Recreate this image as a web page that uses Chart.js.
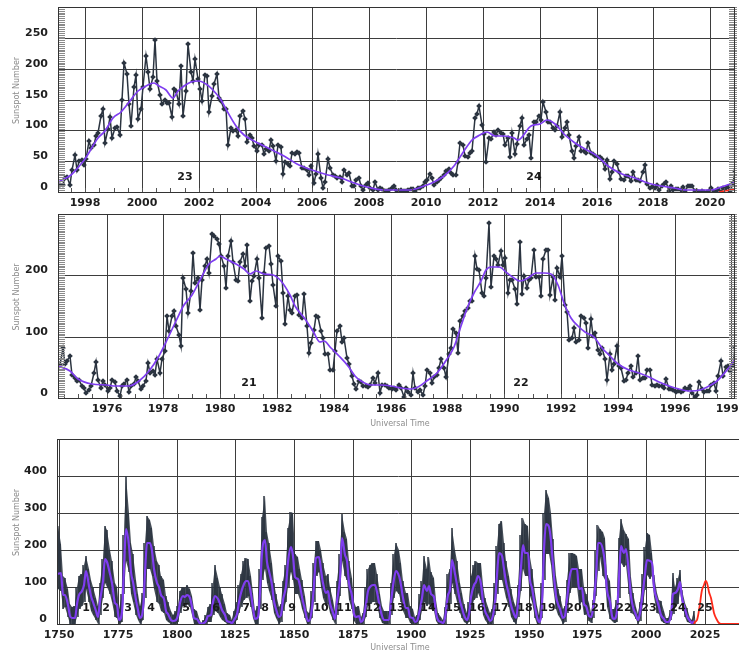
<!DOCTYPE html>
<html>
<head>
<meta charset="utf-8">
<script src="https://cdn.jsdelivr.net/npm/chart.js@4.4.1/dist/chart.umd.min.js"></script>
<style>
  html, body { margin: 0; padding: 0; background: #fff; overflow: hidden; }
  #wrap { position: relative; width: 739px; height: 652px; overflow: hidden; }
  canvas { position: absolute; left: 0; }
</style>
</head>
<body>
<div id="wrap">
  <canvas id="grafico-recente" width="739" height="215" style="top:0"></canvas>
  <canvas id="grafico-antigo" width="739" height="226" style="top:207px"></canvas>
  <canvas id="grafico-historico" width="760" height="220" style="top:432px"></canvas>
</div>
<script>
// Monthly sunspot numbers, Jan 1997 - Nov 2020
const topStart = 1997;
const topMonthly = [
  9, 11, 12, 22, 24, 12, 36, 60, 36, 50, 52, 44,          // 1997
  54, 82, 72, 76, 91, 96, 123, 134, 80, 102, 121, 87,     // 1998
  104, 106, 93, 150, 209, 191, 142, 107, 170, 190, 118, 134,
  171, 220, 194, 167, 187, 246, 180, 157, 142, 150, 144, 145,
  122, 167, 164, 142, 205, 123, 164, 240, 194, 180, 216, 183,
  167, 148, 189, 188, 129, 156, 175, 191, 153, 148, 135, 134,
  77, 103, 99, 101, 91, 123, 132, 118, 81, 93, 87, 74,
  66, 77, 76, 61, 69, 66, 85, 74, 50, 76, 73, 30,         // 2004
  48, 45, 42, 64, 61, 65, 63, 39, 39, 36, 28, 42,
  15, 30, 61, 23, 7, 17, 53, 39, 28, 26, 23, 24,
  17, 36, 28, 31, 9, 9, 20, 23, 9, 3, 12, 14,
  6, 4, 16, 4, 7, 5, 1, 2, 4, 7, 9, 4,                    // 2008
  2, 3, 1, 2, 4, 5, 5, 1, 7, 7, 9, 17,
  20, 30, 23, 12, 16, 20, 23, 28, 34, 38, 31, 27,
  27, 48, 79, 76, 58, 56, 64, 66, 120, 126, 139, 109,
  94, 48, 87, 86, 97, 92, 100, 95, 94, 77, 88, 57,        // 2012
  96, 61, 78, 107, 120, 77, 86, 92, 55, 114, 114, 124,
  117, 146, 129, 113, 113, 103, 100, 107, 130, 90, 104, 113,
  93, 67, 55, 75, 89, 67, 66, 64, 79, 64, 62, 58,
  57, 56, 54, 38, 52, 21, 32, 50, 45, 33, 21, 19,         // 2016
  26, 26, 18, 32, 19, 19, 18, 33, 44, 13, 6, 8,
  7, 11, 3, 9, 13, 16, 2, 9, 3, 5, 5, 3,
  8, 1, 9, 9, 10, 1, 1, 0.5, 1, 0.4, 0.5, 1.5,
  6, 0.2, 1.5, 5, 0.2, 6, 6, 7.5, 0.6, 14, 34             // 2020
];

// Monthly sunspot numbers, Apr 1974 - Feb 1998
const midStart = 1974.25;
const midMonthly = [
  50, 53, 82, 56, 60, 68, 38, 33, 27,                     // 1974
  30, 19, 16, 8, 13, 19, 41, 58, 30, 16, 27, 21,
  11, 16, 30, 26, 11, 3, 19, 23, 29, 9, 19, 23,
  35, 27, 15, 19, 27, 57, 41, 44, 38, 64, 41, 63,
  76, 134, 109, 134, 142, 118, 102, 84, 196, 177, 139, 174, // 1978
  237, 188, 196, 144, 193, 215, 226, 204, 267, 264, 260, 251,
  232, 215, 180, 232, 256, 221, 193, 191, 221, 234, 215, 249,
  158, 191, 199, 227, 196, 131, 204, 245, 248, 218, 185, 150,
  232, 223, 171, 120, 166, 144, 139, 166, 168, 136, 130, 170, // 1982
  117, 73, 90, 111, 133, 132, 109, 98, 71, 72, 46, 46,
  76, 110, 117, 92, 98, 65, 56, 36, 23, 14, 27, 26,
  20, 19, 18, 21, 33, 25, 41, 8, 22, 21, 19, 16,
  15, 16, 13, 22, 16, 2, 16, 9, 5, 41, 16, 9,             // 1986
  13, 5, 19, 46, 40, 25, 35, 38, 49, 64, 49, 35,
  71, 82, 112, 106, 74, 125, 134, 142, 147, 158, 158, 232,
  210, 208, 171, 166, 195, 285, 181, 232, 226, 217, 239, 217,
  228, 172, 193, 192, 177, 154, 254, 170, 199, 179, 193, 196, // 1990
  241, 198, 198, 167, 226, 242, 242, 168, 198, 160, 212, 198,
  231, 151, 141, 95, 98, 114, 92, 95, 133, 130, 123, 82,
  128, 101, 106, 79, 71, 82, 64, 30, 71, 46, 56, 85,
  52, 49, 27, 30, 41, 52, 35, 40, 68, 30, 33, 33,         // 1994
  46, 46, 22, 19, 22, 19, 19, 17, 31, 15, 14, 13,
  9, 11, 9, 11, 16, 14, 19, 8, 1, 5, 26, 14,
  9, 11, 12, 22, 24, 12, 36, 60, 36, 50, 52, 44,
  54, 82                                                   // 1998
];

// 13-month smoothed number
const smoothYears = [
  1974.29, 1974.7, 1975.0, 1975.5, 1976.0, 1976.3, 1976.8, 1977.15, 1977.5, 1977.85,
  1978.13, 1978.43, 1978.72, 1979.0, 1979.3, 1979.6, 1979.85, 1980.0, 1980.2, 1980.55,
  1980.85, 1981.05, 1981.25, 1981.55, 1981.85, 1982.15, 1982.45, 1982.65, 1982.97, 1983.26,
  1983.5, 1983.67, 1983.91, 1984.2, 1984.49, 1984.73, 1984.96, 1985.3, 1985.66, 1986.0,
  1986.37, 1986.72, 1986.95, 1987.3, 1987.65, 1988.0, 1988.24, 1988.47, 1988.71, 1988.94,
  1989.18, 1989.35, 1989.53, 1989.82, 1990.11, 1990.35, 1990.55, 1990.83, 1991.12, 1991.4,
  1991.65, 1991.88, 1992.12, 1992.35, 1992.59, 1992.85, 1993.15, 1993.44, 1993.73, 1994.02,
  1994.38, 1994.73, 1995.08, 1995.44, 1995.79, 1996.14, 1996.55, 1996.9, 1997.2, 1997.5,
  1997.85, 1998.0, 1998.45, 1998.68, 1998.97, 1999.26, 1999.56, 1999.85, 2000.14, 2000.43,
  2000.6, 2000.84, 2001.08, 2001.25, 2001.49, 2001.72, 2002.01, 2002.25, 2002.48, 2002.77,
  2003.0, 2003.3, 2003.59, 2003.94, 2004.29, 2004.64, 2004.99, 2005.47, 2006.0, 2006.53,
  2007.0, 2007.46, 2007.93, 2008.51, 2009.04, 2009.45, 2009.92, 2010.27, 2010.62, 2010.97,
  2011.32, 2011.61, 2011.91, 2012.14, 2012.43, 2012.73, 2013.08, 2013.25, 2013.71, 2014.0,
  2014.27, 2014.53, 2014.88, 2015.24, 2015.59, 2016.0, 2016.41, 2016.88, 2017.35, 2017.81,
  2018.28, 2018.74, 2019.2, 2019.67, 2020.02, 2020.37, 2020.92
];
const smoothValues = [
  52, 44, 31, 23, 22, 20, 20, 28, 44, 68,
  95, 125, 152, 168, 193, 218, 227, 232, 226, 218,
  211, 202, 207, 202, 201, 190, 168, 150, 128, 109,
  92, 93, 82, 68, 52, 36, 27, 22, 21, 19,
  16, 15, 18, 29, 41, 63, 83, 117, 150, 172,
  191, 208, 213, 213, 204, 195, 190, 196, 203, 204,
  202, 185, 155, 131, 117, 107, 100, 82, 68, 55,
  46, 40, 35, 26, 19, 15, 12, 13, 19, 28,
  45, 53, 88, 99, 120, 129, 148, 164, 172, 176,
  172, 166, 153, 164, 172, 179, 180, 175, 167, 150,
  132, 107, 93, 83, 74, 66, 58, 46, 35, 27,
  23, 14, 8, 4, 3, 4, 10, 16, 26, 42,
  67, 84, 93, 98, 91, 91, 87, 85, 107, 110,
  117, 110, 93, 80, 69, 58, 42, 30, 23, 15,
  9, 6.5, 4, 3, 4, 8, 16
];

// predicted cycle 25
const forecastYears = [2020.3, 2020.9, 2021.5, 2022, 2022.5, 2023, 2023.5, 2024, 2024.5, 2025,
  2025.4, 2026, 2026.5, 2027, 2027.5, 2028, 2028.5, 2029, 2030, 2031, 2032, 2033, 2040];
const forecastValues = [0, 5, 12, 22, 37, 55, 75, 93, 106, 113,
  115, 110, 99, 86, 71, 56, 42, 29, 12, 4, 1, 0, 0];

// Yearly record since 1749: mean, highest month, lowest month
const histFirstYear = 1749;
const histMean = [
  134.7,
  139.0, 79.5, 79.7, 51.2, 20.3, 16.0, 17.0, 54.0, 79.3, 90.0,        // 1750s
  104.8, 143.2, 102.0, 75.2, 60.7, 34.8, 19.0, 63.0, 116.3, 176.8,
  168.0, 136.0, 110.8, 58.0, 51.0, 11.7, 33.0, 154.2, 257.3, 209.8,
  141.3, 113.5, 64.2, 38.0, 17.0, 40.2, 138.2, 220.0, 218.2, 196.8,
  149.8, 111.0, 100.0, 78.2, 68.3, 35.5, 26.7, 10.7, 6.8, 11.3,
  24.2, 56.7, 75.0, 71.8, 79.2, 70.3, 46.8, 16.8, 13.5, 4.2,          // 1800s
  0.0, 2.3, 8.3, 20.3, 23.2, 59.0, 76.3, 68.3, 52.9, 38.5,
  24.2, 9.2, 6.3, 2.2, 11.4, 28.2, 59.9, 83.0, 108.5, 115.2,
  117.4, 80.8, 44.3, 13.4, 19.5, 85.8, 192.7, 227.3, 168.7, 143.0,
  105.5, 63.3, 40.3, 18.1, 25.1, 65.8, 102.7, 166.3, 208.3, 182.5,
  126.3, 122.0, 102.7, 74.1, 39.0, 12.7, 8.2, 43.4, 104.4, 178.3,     // 1850s
  182.2, 146.6, 112.1, 83.5, 89.2, 57.8, 30.7, 13.9, 62.8, 123.6,
  232.0, 185.3, 169.2, 110.1, 74.5, 28.3, 18.9, 20.7, 5.7, 10.0,
  53.7, 90.5, 99.0, 106.1, 105.8, 86.3, 42.4, 21.8, 11.2, 10.4,
  11.8, 59.5, 121.7, 142.0, 130.0, 106.6, 69.4, 43.8, 44.4, 20.2,
  15.7, 4.6, 8.5, 40.8, 70.1, 105.5, 90.1, 102.8, 80.9, 73.2,         // 1900s
  30.9, 9.5, 6.0, 2.4, 16.1, 79.0, 95.0, 173.6, 134.6, 105.7,
  62.7, 43.5, 23.7, 9.7, 27.9, 74.0, 106.5, 114.7, 129.7, 108.2,
  59.4, 35.1, 18.6, 9.2, 14.6, 60.2, 132.8, 190.6, 182.6, 148.0,
  113.0, 79.2, 50.8, 27.1, 16.1, 55.3, 154.3, 214.7, 193.0, 190.7,
  118.9, 98.3, 45.0, 20.1, 6.6, 54.2, 200.7, 269.3, 261.7, 225.1,     // 1950s
  159.0, 76.4, 53.4, 39.9, 15.0, 22.0, 66.8, 132.9, 150.0, 149.4,
  148.0, 94.4, 97.6, 54.1, 49.2, 22.5, 18.4, 39.3, 131.0, 220.1,
  218.9, 198.9, 162.4, 91.0, 60.5, 20.6, 14.8, 33.9, 123.0, 211.1,
  191.8, 203.3, 133.0, 76.1, 44.9, 25.1, 11.6, 28.9, 88.3, 136.3,
  173.9, 170.4, 163.6, 99.3, 65.3, 45.8, 24.7, 12.6, 4.2, 4.8,        // 2000s
  24.9, 80.8, 84.5, 94.0, 113.3, 69.8, 39.8, 21.7, 7.0, 3.6,
  8.8
];
const histHigh = [
  265,
  215, 130, 125, 95, 55, 45, 50, 100, 130, 135,
  160, 183, 150, 120, 100, 70, 50, 110, 175, 264,
  255, 200, 170, 110, 100, 40, 80, 240, 400, 300,
  220, 190, 120, 80, 50, 85, 220, 291, 280, 260,
  210, 170, 160, 130, 120, 75, 60, 35, 25, 35,
  50, 90, 100, 98, 106, 95, 75, 40, 35, 15,
  3, 10, 25, 45, 55, 110, 160, 125, 100, 80,
  55, 30, 25, 12, 35, 60, 105, 135, 170, 178,
  175, 130, 85, 35, 50, 150, 290, 346, 250, 220,
  165, 110, 80, 45, 55, 115, 160, 260, 302, 300,
  190, 180, 150, 120, 75, 35, 30, 90, 165, 224,
  224, 200, 165, 130, 135, 100, 65, 35, 115, 190,
  296, 250, 230, 170, 125, 60, 45, 50, 20, 30,
  100, 150, 160, 165, 165, 135, 80, 50, 35, 35,
  35, 110, 190, 219, 200, 165, 115, 85, 85, 50,
  40, 18, 25, 80, 115, 183, 150, 180, 140, 125,
  65, 30, 20, 12, 45, 135, 150, 260, 200, 170,
  110, 85, 55, 30, 60, 130, 160, 169, 166, 165,
  105, 70, 45, 30, 40, 110, 210, 270, 278, 220,
  170, 130, 95, 60, 45, 105, 240, 287, 270, 265,
  180, 150, 85, 50, 25, 110, 300, 361, 340, 300,
  230, 130, 95, 75, 40, 50, 120, 192, 192, 190,
  185, 150, 150, 100, 82, 58, 30, 64, 196, 267,
  256, 248, 232, 133, 117, 41, 41, 64, 232, 285,
  254, 242, 231, 128, 85, 46, 26, 60, 134, 209,
  246, 240, 191, 132, 85, 65, 61, 36, 16, 17,
  38, 139, 101, 124, 146, 93, 57, 44, 16, 10,
  34
];
const histLow = [
  95,
  90, 40, 45, 20, 0, 0, 0, 20, 40, 50,
  60, 95, 60, 35, 25, 10, 0, 25, 70, 110,
  100, 80, 60, 20, 15, 0, 5, 80, 170, 140,
  80, 60, 25, 10, 0, 10, 70, 150, 150, 130,
  95, 60, 55, 35, 30, 10, 5, 0, 0, 0,
  5, 30, 50, 48, 55, 45, 25, 0, 0, 0,
  0, 0, 0, 5, 5, 25, 35, 30, 20, 10,
  5, 0, 0, 0, 0, 10, 30, 45, 65, 70,
  75, 45, 15, 0, 0, 40, 120, 150, 110, 90,
  65, 30, 15, 0, 5, 35, 60, 100, 140, 120,
  80, 80, 65, 40, 15, 0, 0, 15, 60, 130,
  140, 100, 70, 50, 55, 30, 10, 0, 25, 75,
  170, 130, 120, 65, 40, 8, 0, 0, 0, 0,
  20, 50, 55, 60, 60, 50, 15, 3, 0, 0,
  0, 25, 70, 90, 80, 60, 35, 15, 15, 3,
  0, 0, 0, 10, 35, 60, 50, 55, 40, 35,
  8, 0, 0, 0, 0, 40, 55, 110, 80, 60,
  30, 15, 5, 0, 5, 35, 65, 70, 85, 65,
  25, 10, 0, 0, 0, 25, 80, 120, 120, 95,
  70, 45, 20, 5, 0, 20, 90, 150, 130, 130,
  75, 60, 15, 0, 0, 15, 120, 190, 190, 160,
  100, 40, 25, 15, 0, 5, 30, 85, 100, 100,
  100, 55, 60, 25, 27, 8, 3, 15, 76, 144,
  180, 131, 120, 46, 14, 8, 2, 5, 71, 166,
  154, 160, 82, 30, 27, 13, 1, 9, 52, 93,
  133, 122, 129, 74, 30, 28, 7, 3, 1, 1,
  12, 27, 48, 55, 90, 55, 18, 6, 2, 0,
  0
];

// axis ticks
const topTicks = [1998, 2000, 2002, 2004, 2006, 2008, 2010, 2012, 2014, 2016, 2018, 2020];
const midTicks = [1976, 1978, 1980, 1982, 1984, 1986, 1988, 1990, 1992, 1994, 1996, 1998];
const histTicks = [1750, 1775, 1800, 1825, 1850, 1875, 1900, 1925, 1950, 1975, 2000, 2025];
const topYTicks = [0, 50, 100, 150, 200, 250];
const midYTicks = [0, 100, 200];
const histYTicks = [0, 100, 200, 300, 400];

// cycle numbers and where they sit
const topCycleNames = ['23', '24'];
const topCycleYears = [2001.5, 2013.8];
const midCycleNames = ['21', '22'];
const midCycleYears = [1981.0, 1990.6];
const histCycleNames = ['1', '2', '3', '4', '5', '6', '7', '8', '9', '10', '11', '12', '13',
  '14', '15', '16', '17', '18', '19', '20', '21', '22', '23', '24', '25'];
const histCycleYears = [1761.2, 1770.0, 1779.2, 1788.9, 1803.8, 1816.9, 1829.7, 1837.8, 1849.1,
  1861.3, 1871.3, 1883.5, 1893.8, 1907.1, 1917.7, 1927.9, 1938.3, 1948.3, 1958.2, 1969.2,
  1979.9, 1990.4, 2001.2, 2013.6, 2025.0];

const corEscura = '#2b3440';
const corFaixa = 'rgba(43, 52, 64, 0.88)';
const corRoxa = '#7f3df0';
const corVermelha = '#ff2a1a';
const corGrade = '#3d3d3d';
const fonteTicks = { family: 'DejaVu Sans', size: 11, weight: 'bold' };

Chart.defaults.font.family = '"DejaVu Sans", sans-serif';

function monthlyPoints(start, values) {
    return values.map((v, i) => ({ x: start + (i + 0.5) / 12, y: v }));
}

function curvePoints(xs, ys) {
    return xs.map((x, i) => ({ x: x, y: ys[i] }));
}

function yearPoints(first, values) {
    return values.map((v, i) => ({ x: first + i + 0.5, y: v }));
}

// each year becomes its highest and lowest month, which reads as the noisy band
function bandPoints(first, high, low) {
    const pts = [];
    high.forEach((h, i) => {
        pts.push({ x: first + i + 0.25, y: h });
        pts.push({ x: first + i + 0.75, y: low[i] });
    });
    return pts;
}

const extrasPlugin = {
    id: 'extras',
    afterDatasetsDraw(chart, args, opts) {
        const { ctx, chartArea: area, scales } = chart;
        const x = scales.x;
        const y = scales.y;
        ctx.save();
        ctx.lineWidth = 1;

        if (opts.minorStep) {
            ctx.strokeStyle = '#555';
            ctx.beginPath();
            for (let v = Math.ceil(x.min / opts.minorStep) * opts.minorStep; v <= x.max; v += opts.minorStep) {
                const px = Math.round(x.getPixelForValue(v)) + 0.5;
                ctx.moveTo(px, area.bottom);
                ctx.lineTo(px, area.bottom - 4);
            }
            ctx.stroke();
        }

        if (opts.combStep) {
            ctx.strokeStyle = '#8a8a8a';
            ctx.beginPath();
            for (let v = 0; v <= y.max; v += opts.combStep) {
                const py = Math.round(y.getPixelForValue(v)) + 0.5;
                ctx.moveTo(area.left, py);
                ctx.lineTo(area.left + 7, py);
                ctx.moveTo(area.right - 6, py);
                ctx.lineTo(area.right + 2, py);
            }
            ctx.stroke();
        }

        // frame round the plot
        ctx.strokeStyle = '#333';
        ctx.strokeRect(Math.round(area.left) + 0.5, Math.round(area.top) + 0.5,
            Math.round(area.right - area.left) - 1, Math.round(area.bottom - area.top));

        // cycle numbers
        ctx.fillStyle = '#1a1a1a';
        ctx.font = 'bold 11px "DejaVu Sans"';
        ctx.textAlign = 'center';
        ctx.textBaseline = 'middle';
        opts.cycleNames.forEach((name, i) => {
            ctx.fillText(name, x.getPixelForValue(opts.cycleYears[i]), area.bottom - opts.labelLift);
        });

        // axis titles
        ctx.fillStyle = '#8c8c8c';
        ctx.font = '8px "DejaVu Sans"';
        ctx.save();
        ctx.translate(17, (area.top + area.bottom) / 2 - 9);
        ctx.rotate(-Math.PI / 2);
        ctx.fillText('Sunspot Number', 0, 0);
        ctx.restore();
        if (opts.xTitleY) {
            ctx.fillText('Universal Time', 400, opts.xTitleY);
        }
        ctx.restore();
    }
};

function montarGrafico(id, cfg) {
    return new Chart(document.getElementById(id), {
        type: 'line',
        data: { datasets: cfg.datasets },
        options: {
            responsive: false,
            animation: false,
            events: [],
            layout: { padding: cfg.padding },
            plugins: {
                legend: { display: false },
                tooltip: { enabled: false },
                filler: { propagate: false },
                extras: cfg.extras
            },
            scales: {
                x: {
                    type: 'linear',
                    bounds: 'data',
                    min: cfg.xMin,
                    max: cfg.xMax,
                    alignToPixels: true,
                    afterBuildTicks: s => { s.ticks = cfg.xTicks.map(v => ({ value: v })); },
                    afterFit: s => { s.height = cfg.xAxisHeight; s.paddingLeft = 0; s.paddingRight = 0; },
                    grid: { color: corGrade, lineWidth: 1, drawTicks: false },
                    border: { display: false },
                    ticks: {
                        autoSkip: false, maxRotation: 0, padding: 5,
                        color: '#1e1e1e', font: fonteTicks,
                        callback: v => String(v)
                    }
                },
                y: {
                    type: 'linear',
                    bounds: 'data',
                    min: 0,
                    max: cfg.yMax,
                    alignToPixels: true,
                    afterBuildTicks: s => { s.ticks = cfg.yTicks.map(v => ({ value: v })); },
                    afterFit: s => { s.width = cfg.yAxisWidth; s.paddingTop = 0; s.paddingBottom = 0; },
                    grid: { color: corGrade, lineWidth: 1, drawTicks: false },
                    border: { display: false },
                    ticks: {
                        padding: 10, labelOffset: -5,
                        color: '#1e1e1e', font: fonteTicks,
                        callback: v => String(v)
                    }
                }
            }
        },
        plugins: [extrasPlugin]
    });
}

function serieMensal(start, values) {
    return {
        data: monthlyPoints(start, values),
        borderColor: corEscura,
        borderWidth: 1.5,
        pointStyle: 'rectRot',
        pointRadius: 2.8,
        pointBackgroundColor: corEscura,
        pointBorderWidth: 0,
        order: 3
    };
}

function serieSuave(points, width) {
    return {
        data: points,
        borderColor: corRoxa,
        borderWidth: width,
        pointRadius: 0,
        cubicInterpolationMode: 'monotone',
        order: 2
    };
}

function seriePrevisao(width) {
    return {
        data: curvePoints(forecastYears, forecastValues),
        borderColor: corVermelha,
        borderWidth: width,
        pointRadius: 0,
        cubicInterpolationMode: 'monotone',
        order: 1
    };
}

// cycles 23 and 24
montarGrafico('grafico-recente', {
    datasets: [
        seriePrevisao(1.6),
        serieSuave(curvePoints(smoothYears, smoothValues), 1.7),
        serieMensal(topStart, topMonthly)
    ],
    xMin: topStart + 0.5 / 12, xMax: 2020 + 10.5 / 12,
    xTicks: topTicks, yTicks: topYTicks, yMax: 300,
    padding: { top: 7, right: 2, left: 0, bottom: 0 },
    yAxisWidth: 58, xAxisHeight: 23,
    extras: { minorStep: 0.5, combStep: 3, cycleNames: topCycleNames, cycleYears: topCycleYears, labelLift: 15 }
});

// cycles 21 and 22
montarGrafico('grafico-antigo', {
    datasets: [
        serieSuave(curvePoints(smoothYears, smoothValues), 1.7),
        serieMensal(midStart, midMonthly)
    ],
    xMin: midStart + 0.5 / 12, xMax: 1998 + 1.5 / 12,
    xTicks: midTicks, yTicks: midYTicks, yMax: 300,
    padding: { top: 7, right: 2, left: 0, bottom: 0 },
    yAxisWidth: 58, xAxisHeight: 35,
    extras: { minorStep: 0.5, combStep: 3, cycleNames: midCycleNames, cycleYears: midCycleYears, labelLift: 15, xTitleY: 217 }
});

// whole record since 1749: filled envelope, zigzag of monthly extremes, yearly mean
montarGrafico('grafico-historico', {
    datasets: [
        seriePrevisao(1.8),
        serieSuave(yearPoints(histFirstYear, histMean), 2.2),
        { data: bandPoints(histFirstYear, histHigh, histLow), borderColor: corEscura, borderWidth: 1, pointRadius: 0, order: 3 },
        { data: yearPoints(histFirstYear, histHigh), borderWidth: 0, pointRadius: 0, backgroundColor: corFaixa, fill: '+1', order: 4 },
        { data: yearPoints(histFirstYear, histLow), borderWidth: 0, pointRadius: 0, order: 5 }
    ],
    xMin: 1749, xMax: 2040,
    xTicks: histTicks, yTicks: histYTicks, yMax: 500,
    padding: { top: 7, right: 20, left: 0, bottom: 0 },
    yAxisWidth: 57, xAxisHeight: 28,
    extras: { minorStep: 0, combStep: 0, cycleNames: histCycleNames, cycleYears: histCycleYears, labelLift: 16, xTitleY: 216 }
});
</script>
</body>
</html>
